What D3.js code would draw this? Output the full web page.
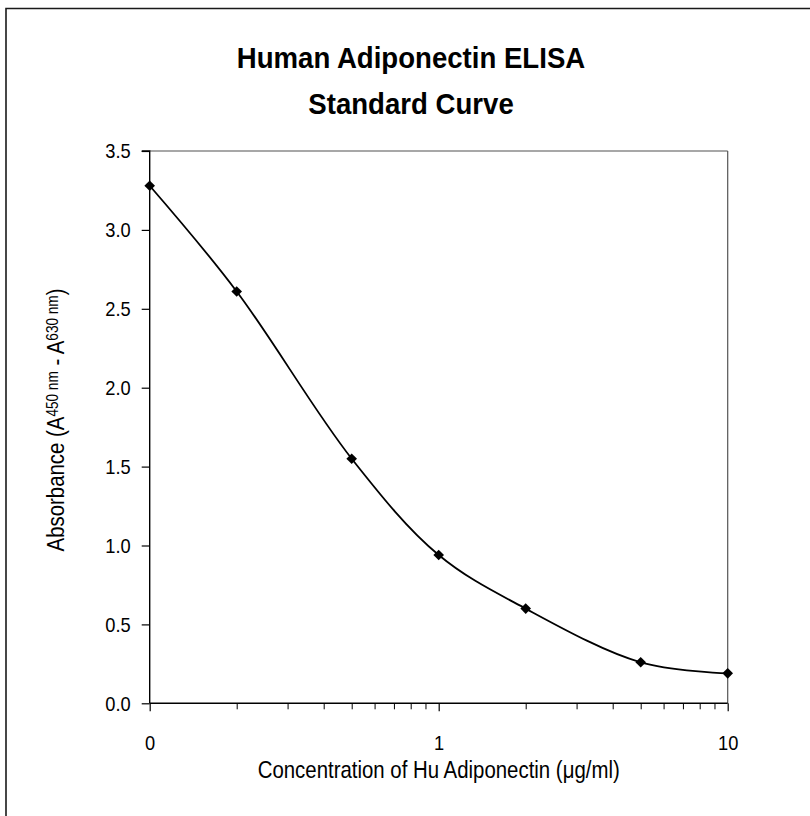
<!DOCTYPE html>
<html><head><meta charset="utf-8">
<script src="https://cdn.jsdelivr.net/npm/d3@7"></script>
<style>
html,body{margin:0;padding:0;background:#fff;}
text{font-family:"Liberation Sans",Arial,sans-serif;fill:#000;}
</style></head>
<body>
<svg id="chart" width="810" height="816"></svg>
<script>
// ---- data ----
const concentrations = [0.1, 0.2, 0.5, 1, 2, 5, 10];
const absorbance = [3.28, 2.61, 1.55, 0.94, 0.60, 0.26, 0.19];
const yTicks = [0, 0.5, 1.0, 1.5, 2.0, 2.5, 3.0, 3.5];
const xMajorTicks = [0.1, 1, 10];
const xMajorLabels = ["0", "1", "10"];
const xMinorTicks = [0.2,0.3,0.4,0.5,0.6,0.7,0.8,0.9,2,3,4,5,6,7,8,9];
const titleLines = ["Human Adiponectin ELISA", "Standard Curve"];
const xTitle = "Concentration of Hu Adiponectin (\u03bcg/ml)";

const svg = d3.select("#chart");
const L = 149.7, R = 727.7, T = 151, B = 703.3;
const NARROW = 0.87;

// outer frame (left & top edges visible)
svg.append("path").attr("d", "M6,816 V8.5 H810")
  .attr("fill","none").attr("stroke","#1a1a1a").attr("stroke-width",1.6);

const x = d3.scaleLog().domain([0.1, 10]).range([L, R]);
const y = d3.scaleLinear().domain([0, 3.5]).range([B, T]);

// plot area border (top & right)
svg.append("path").attr("d", `M${L},${T} H${R}`)
  .attr("fill","none").attr("stroke","#8a8a8a").attr("stroke-width",1.3);
svg.append("path").attr("d", `M${R},${T} V${B}`)
  .attr("fill","none").attr("stroke","#555").attr("stroke-width",1.2);

// y axis
const yAxis = d3.axisLeft(y).tickValues(yTicks).tickFormat(d3.format(".1f"))
  .tickSize(8).tickPadding(11);
const gy = svg.append("g").attr("transform", `translate(${L},0)`).call(yAxis);
gy.select(".domain").attr("stroke","#000").attr("stroke-width",1.4).attr("d", `M-8,${T}H0V${B}`);
gy.selectAll(".tick line").attr("stroke","#000").attr("stroke-width",1.2);
gy.selectAll(".tick text").style("font-size","21px")
  .attr("x", -19 / NARROW).attr("transform", `scale(${NARROW},1)`);

// x axis minor ticks
const gxm = svg.append("g").attr("transform", `translate(0,${B})`)
  .call(d3.axisBottom(x).tickValues(xMinorTicks).tickSize(6).tickFormat(""));
gxm.select(".domain").remove();
gxm.selectAll(".tick line").attr("stroke","#000").attr("stroke-width",1);

// x axis major ticks
const gx = svg.append("g").attr("transform", `translate(0,${B})`)
  .call(d3.axisBottom(x).tickValues(xMajorTicks).tickSize(8).tickPadding(39)
    .tickFormat((d,i) => xMajorLabels[i]));
gx.select(".domain").attr("stroke","#000").attr("stroke-width",1.4).attr("d", `M${L},0H${R}`);
gx.selectAll(".tick line").attr("stroke","#000").attr("stroke-width",1.2);
gx.selectAll(".tick text").style("font-size","21px").attr("dy", null)
  .attr("transform", `scale(${NARROW},1)`);

// curve
const pts = concentrations.map((c,i) => [c, absorbance[i]]);
const line = d3.line().x(d => x(d[0])).y(d => y(d[1])).curve(d3.curveCatmullRom.alpha(0.5));
svg.append("path").datum(pts).attr("d", line)
  .attr("fill","none").attr("stroke","#000").attr("stroke-width",1.8);

// diamond markers
svg.append("g").selectAll("path").data(pts).join("path")
  .attr("transform", d => `translate(${x(d[0])},${y(d[1])})`)
  .attr("d", d3.symbol().type(d3.symbolDiamond2).size(72))
  .attr("fill","#000");

// titles (condensed look)
svg.append("g").selectAll("text").data(titleLines).join("text")
  .attr("transform", (d,i) => `translate(411,${68 + i*45.5}) scale(0.92,1)`)
  .attr("text-anchor","middle").style("font-size","30px").style("font-weight","bold")
  .text(d => d);

svg.append("text").attr("transform", `translate(${(L+R)/2},778) scale(0.85,1)`)
  .attr("text-anchor","middle").style("font-size","24px").text(xTitle);

const yt = svg.append("text").attr("transform", "translate(64,420) rotate(-90) scale(0.85,1)")
  .attr("text-anchor","middle").style("font-size","24px");
yt.append("tspan").text("Absorbance (A");
yt.append("tspan").style("font-size","16px").attr("dy", -6).text("450 nm");
yt.append("tspan").attr("dy", 6).text(" - A");
yt.append("tspan").style("font-size","16px").attr("dy", -6).text("630 nm");
yt.append("tspan").attr("dy", 6).text(")");
</script>
</body></html>
